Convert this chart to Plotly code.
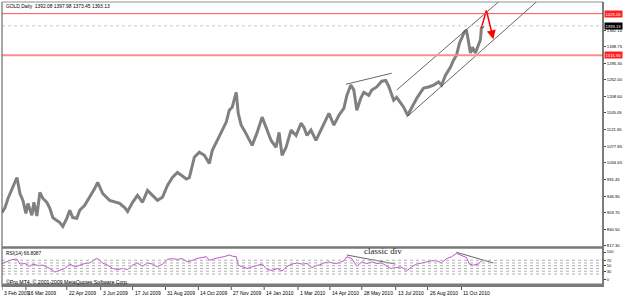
import plotly.graph_objects as go

# ---------------- data ----------------
PRICE_BAR = [2, 5, 8, 13, 17, 20, 23, 26, 28, 32, 34, 37, 40, 43, 47, 50, 53, 57, 60, 63,
             67, 70, 73, 77, 80, 85, 90, 95, 98, 103, 110, 115, 120, 125, 128, 133, 138, 143,
             148, 153, 158, 163, 168, 173, 178, 183, 187, 190, 193, 195, 200, 205, 210, 213,
             218, 223, 227, 230, 233, 235, 237, 239, 242, 245, 250, 253, 258, 263, 267, 272,
             277, 280, 283, 287, 292, 297, 302, 305, 308, 312, 317, 322, 327, 330, 335, 340,
             345, 348, 352, 355, 358, 362, 365, 370, 373, 378, 383, 387, 390, 395, 398, 402,
             405, 409, 413, 418, 422, 425, 430, 435, 440, 443, 447, 452, 455, 458, 461, 463,
             466, 468, 470, 472, 474, 477, 480, 482, 483, 485]
PRICE = [904, 917, 941, 970, 996, 954, 936, 902, 928, 897, 931, 895, 957, 941, 931, 915, 891,
         883, 878, 868, 889, 910, 891, 889, 910, 923, 944, 967, 983, 954, 936, 931, 928, 917,
         907, 931, 949, 931, 962, 949, 936, 944, 975, 996, 1009, 1000, 992, 996, 1033, 1049,
         1062, 1054, 1033, 1067, 1093, 1120, 1141, 1172, 1180, 1200, 1219, 1164, 1133, 1120,
         1093, 1080, 1114, 1154, 1127, 1093, 1075, 1114, 1054, 1075, 1120, 1106, 1138, 1127,
         1106, 1120, 1093, 1120, 1151, 1164, 1133, 1159, 1177, 1211, 1238, 1225, 1172, 1204,
         1219, 1211, 1225, 1233, 1248, 1250, 1235, 1198, 1206, 1190, 1180, 1159, 1180, 1203,
         1219, 1230, 1233, 1238, 1246, 1238, 1264, 1285, 1303, 1316, 1348, 1361, 1377, 1382,
         1356, 1322, 1337, 1322, 1343, 1356, 1387, 1393]

RSI_BAR = [2, 7, 13, 17, 20, 25, 30, 33, 38, 43, 50, 55, 60, 65, 70, 75, 80, 85, 90, 95, 98,
           103, 108, 113, 118, 123, 128, 133, 138, 143, 148, 153, 158, 163, 168, 173, 178,
           183, 188, 192, 197, 202, 207, 210, 215, 220, 225, 230, 233, 237, 239, 243, 248,
           253, 258, 263, 268, 273, 278, 283, 288, 293, 298, 303, 308, 313, 318, 320, 325,
           330, 335, 340, 345, 348, 353, 358, 363, 368, 373, 378, 383, 388, 392, 397, 402,
           405, 408, 413, 418, 423, 428, 433, 438, 443, 448, 453, 458, 462, 465, 468, 471,
           475, 480, 483, 485]
RSI = [58, 64, 73, 74, 56, 58, 48, 56, 51, 52, 40, 27, 33, 40, 56, 46, 52, 58, 60, 73, 76,
       60, 52, 40, 36, 40, 36, 52, 60, 48, 60, 56, 46, 56, 73, 76, 73, 76, 64, 68, 76, 80,
       83, 70, 76, 80, 83, 89, 85, 83, 52, 46, 40, 46, 52, 56, 36, 33, 40, 31, 48, 56, 60,
       56, 58, 43, 52, 52, 60, 64, 58, 60, 68, 83, 76, 48, 64, 58, 64, 58, 60, 48, 40, 43,
       46, 40, 31, 46, 56, 60, 64, 68, 68, 60, 76, 83, 95, 89, 83, 80, 56, 52, 56, 68, 67]

DATE_TICK_BAR = [2, 26, 67, 101, 133, 166, 199, 232, 265, 299, 331, 363, 397, 429, 463]
DATE_TICK_TEXT = ["3 Feb 2009", "16 Mar 2009", "22 Apr 2009", "3 Jun 2009", "17 Jul 2009",
                  "31 Aug 2009", "14 Oct 2009", "27 Nov 2009", "14 Jan 2010", "1 Mar 2010",
                  "14 Apr 2010", "28 May 2010", "13 Jul 2010", "26 Aug 2010", "11 Oct 2010"]

PRICE_TICKS = [817.30, 860.50, 903.70, 946.90, 991.45, 1034.65, 1077.85, 1121.65, 1165.05,
               1208.60, 1252.00, 1295.30, 1338.75, 1382.10]
PRICE_TICK_TEXT = ["817.30", "860.50", "903.70", "946.90", "991.45", "1034.65", "1077.85",
                   "1121.65", "1165.05", "1208.60", "1252.00", "1295.30", "1338.75", "1382.10"]

RSI_TICKS = [0, 30, 50, 70, 100]
RSI_LEVELS = [20, 30, 40, 50, 60, 70]

RESIST_LEVEL = 1425.05
SUPPORT_LEVEL = 1315.90
BID = 1393.13

# drawn objects (bar index, value)
TOP_LINE_BAR, TOP_LINE_PRICE = [347, 393], [1240, 1269]
CH_UP_BAR, CH_UP_PRICE = [398, 502], [1225, 1460]
CH_LO_BAR, CH_LO_PRICE = [408, 540], [1154, 1460]
ARROW_BAR, ARROW_PRICE = [483, 488, 495], [1387, 1434, 1358]
DIV1_BAR, DIV1_RSI = [348, 397], [89, 56]
DIV2_BAR, DIV2_RSI = [458, 495], [99, 60]

HEADER = "GOLD,Daily  1392.08 1397.98 1373.45 1393.13"
RSI_TITLE = "RSI(14) 66.8087"
COPYRIGHT = "©Pro MT4, © 2001-2009 MetaQuotes Software Corp."

# ---------------- figure ----------------
H = 298
PLOT_TOP, PLOT_BOT = 2, 287
PH = PLOT_BOT - PLOT_TOP


def py(pix):
    return (PLOT_BOT - pix) / PH


FONT = "Liberation Sans"
fig = go.Figure()

fig.add_trace(go.Scatter(x=PRICE_BAR, y=PRICE, mode="lines", yaxis="y",
                         line=dict(color="#808080", width=3), hoverinfo="skip"))
for bx, by in [(TOP_LINE_BAR, TOP_LINE_PRICE), (CH_UP_BAR, CH_UP_PRICE), (CH_LO_BAR, CH_LO_PRICE)]:
    fig.add_trace(go.Scatter(x=bx, y=by, mode="lines", yaxis="y",
                             line=dict(color="#404040", width=0.8), hoverinfo="skip"))
fig.add_trace(go.Scatter(x=ARROW_BAR[:2], y=ARROW_PRICE[:2], mode="lines", yaxis="y",
                         line=dict(color="#ff0000", width=1.5), hoverinfo="skip"))

fig.add_trace(go.Scatter(x=RSI_BAR, y=RSI, mode="lines", yaxis="y2", xaxis="x",
                         line=dict(color="#c050d0", width=1), hoverinfo="skip"))
for bx, by in [(DIV1_BAR, DIV1_RSI), (DIV2_BAR, DIV2_RSI)]:
    fig.add_trace(go.Scatter(x=bx, y=by, mode="lines", yaxis="y2",
                             line=dict(color="#404040", width=0.8), hoverinfo="skip"))

shapes = []
shapes.append(dict(type="line", xref="paper", x0=0, x1=1, yref="y", y0=RESIST_LEVEL, y1=RESIST_LEVEL,
                   line=dict(color="#ff5050", width=1)))
shapes.append(dict(type="line", xref="paper", x0=0, x1=1, yref="y", y0=SUPPORT_LEVEL, y1=SUPPORT_LEVEL,
                   line=dict(color="#ff8c8c", width=2)))
shapes.append(dict(type="line", xref="paper", x0=0, x1=1, yref="y", y0=BID, y1=BID,
                   line=dict(color="#c8c8c8", width=1, dash="dot")))
for lv in RSI_LEVELS:
    shapes.append(dict(type="line", xref="paper", x0=0, x1=1, yref="y2", y0=lv, y1=lv,
                       line=dict(color="#b0b0b0", width=1, dash="dot")))
shapes.append(dict(type="line", xref="paper", yref="paper", x0=0, x1=0, y0=0, y1=1,
                   line=dict(color="#505050", width=1)))
shapes.append(dict(type="line", xref="paper", yref="paper", x0=0, x1=1, y0=1, y1=1,
                   line=dict(color="#909090", width=1)))
shapes.append(dict(type="line", xref="paper", yref="paper", x0=1, x1=1, y0=0, y1=1,
                   line=dict(color="#505050", width=1.5)))
shapes.append(dict(type="line", xref="paper", yref="paper", x0=0, x1=1, y0=py(247.5), y1=py(247.5),
                   line=dict(color="#7a7a7a", width=2.5)))
shapes.append(dict(type="rect", xref="paper", yref="paper", x0=0, x1=1, y0=py(287), y1=py(283.5),
                   line=dict(width=0), fillcolor="#7a7a7a"))
for tb in DATE_TICK_BAR:
    shapes.append(dict(type="line", xref="x", yref="paper", x0=tb, x1=tb, y0=py(287), y1=py(290),
                       line=dict(color="#505050", width=1)))

ann = []
ann.append(dict(text=HEADER, xref="paper", yref="paper", x=0, y=py(6), xanchor="left", yanchor="middle",
                xshift=2, showarrow=False, font=dict(family=FONT, size=4.9, color="#000")))
ann.append(dict(text=RSI_TITLE, xref="paper", yref="paper", x=0, y=py(253), xanchor="left", yanchor="middle",
                xshift=2, showarrow=False, font=dict(family=FONT, size=4.8, color="#000")))
ann.append(dict(text=COPYRIGHT, xref="paper", yref="paper", x=0, y=py(282), xanchor="left", yanchor="middle",
                xshift=2, showarrow=False, font=dict(family=FONT, size=5.2, color="#000")))
ann.append(dict(text="classic div", xref="x", yref="paper", x=384, y=py(251), xanchor="center",
                yanchor="middle", showarrow=False,
                font=dict(family="Liberation Serif", size=9, color="#202020")))
for tb, tt in zip(DATE_TICK_BAR, DATE_TICK_TEXT):
    ann.append(dict(text=tt, xref="x", yref="paper", x=tb, y=py(293), xanchor="left", yanchor="middle",
                    xshift=0, showarrow=False, font=dict(family=FONT, size=5, color="#000")))
for val, bg in [(RESIST_LEVEL, "#ff2020"), (SUPPORT_LEVEL, "#ff2020"), (BID, "#000000")]:
    ann.append(dict(text=f"{val:.2f}", xref="paper", yref="y", x=1, y=val, xanchor="left",
                    yanchor="middle", xshift=1, showarrow=False, bgcolor=bg, borderpad=0.5,
                    font=dict(family=FONT, size=4.2, color="#ffffff")))
ann.append(dict(x=ARROW_BAR[2], y=ARROW_PRICE[2], ax=ARROW_BAR[1], ay=ARROW_PRICE[1],
                xref="x", yref="y", axref="x", ayref="y", showarrow=True, arrowhead=2,
                arrowsize=1.2, arrowwidth=1.5, arrowcolor="#ff0000", text=""))

fig.update_layout(
    width=625, height=H,
    margin=dict(l=2, r=20, t=PLOT_TOP, b=H - PLOT_BOT),
    paper_bgcolor="#ffffff", plot_bgcolor="#ffffff",
    showlegend=False,
    xaxis=dict(range=[2, 605], anchor="y2", showticklabels=False, showgrid=False,
               zeroline=False, ticks=""),
    yaxis=dict(domain=[py(247.5), 1], range=[812.6, 1455.5], side="right",
               tickvals=PRICE_TICKS, ticktext=PRICE_TICK_TEXT, ticks="outside", ticklen=2,
               tickcolor="#404040", showgrid=False, zeroline=False,
               tickfont=dict(family=FONT, size=4.2, color="#000")),
    yaxis2=dict(domain=[py(283.5), py(249)], range=[-14.8, 111], side="right",
                tickvals=RSI_TICKS, ticktext=[str(v) for v in RSI_TICKS], ticks="outside",
                ticklen=2, tickcolor="#404040", showgrid=False, zeroline=False,
                tickfont=dict(family=FONT, size=4, color="#000")),
    shapes=shapes, annotations=ann,
)

fig.write_html("out.html")
